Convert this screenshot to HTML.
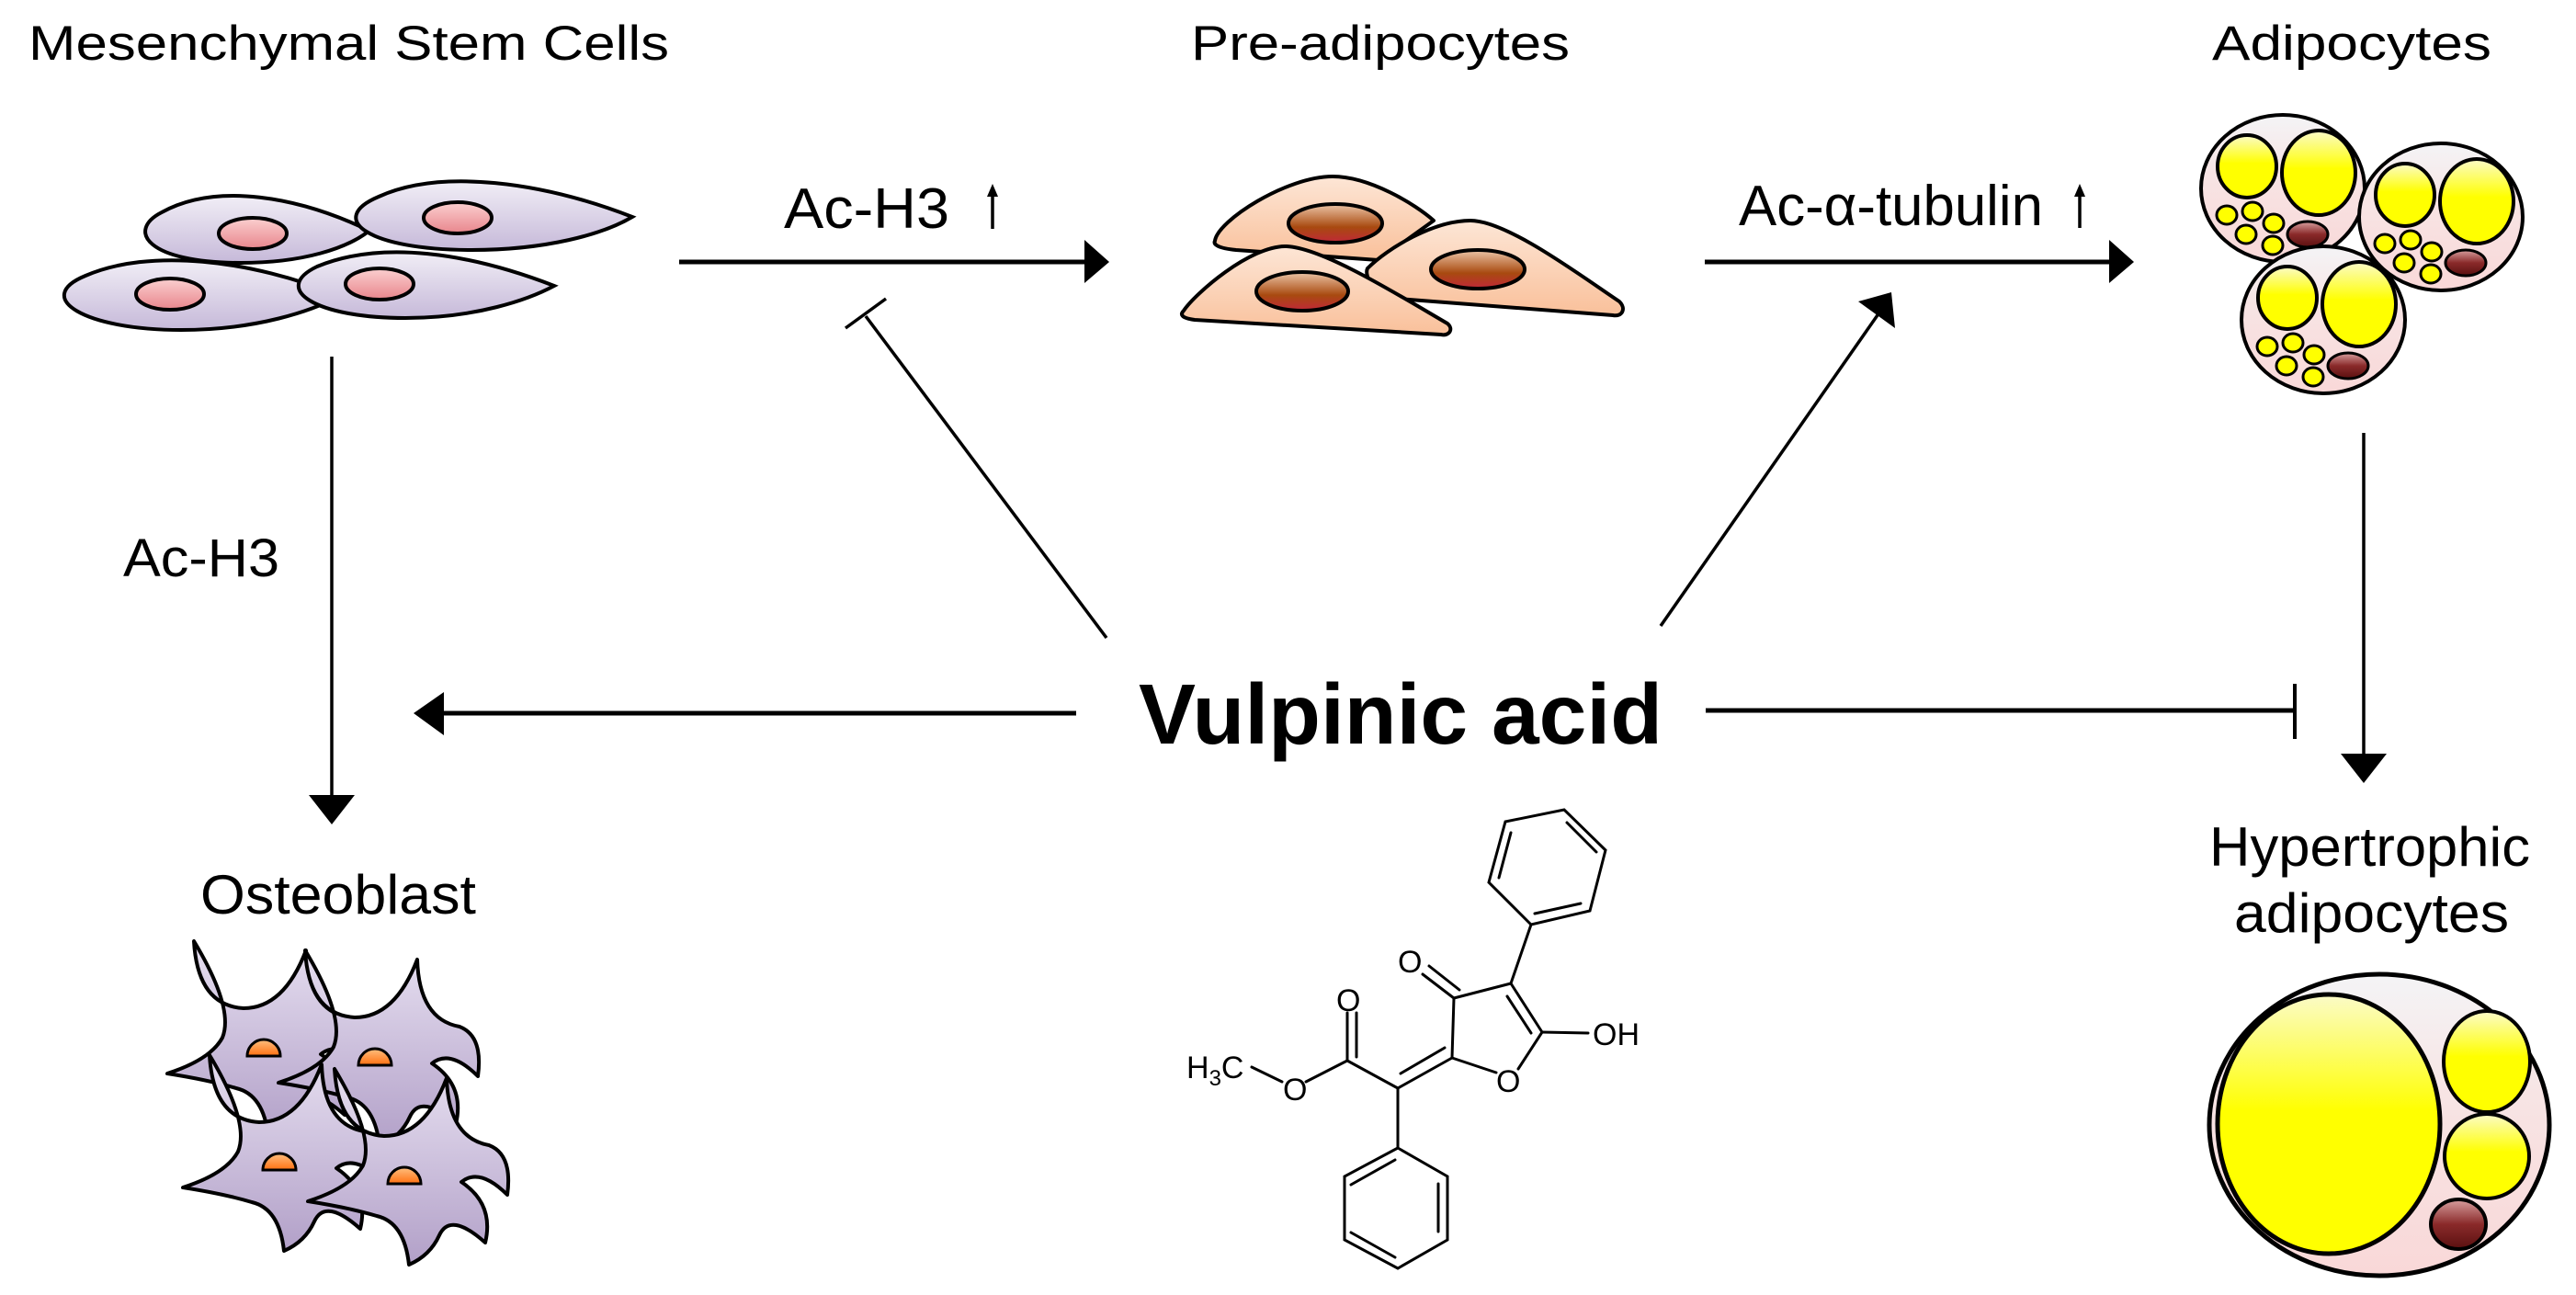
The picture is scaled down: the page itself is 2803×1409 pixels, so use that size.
<!DOCTYPE html>
<html><head><meta charset="utf-8"><style>
html,body{margin:0;padding:0;background:#fff;}
svg{display:block;}
text{font-family:"Liberation Sans",sans-serif;fill:#000;}
</style></head><body>
<svg width="2803" height="1409" viewBox="0 0 2803 1409" xmlns="http://www.w3.org/2000/svg">
<defs>
<linearGradient id="lav" x1="0" y1="0" x2="0" y2="1"><stop offset="0" stop-color="#f1eef6"/><stop offset="1" stop-color="#c6b9d9"/></linearGradient>
<linearGradient id="pinkn" x1="0" y1="0" x2="0" y2="1"><stop offset="0" stop-color="#fbd0d0"/><stop offset="1" stop-color="#e8858c"/></linearGradient>
<linearGradient id="peach" x1="0" y1="0" x2="0" y2="1"><stop offset="0" stop-color="#fde6d6"/><stop offset="1" stop-color="#f9c09a"/></linearGradient>
<linearGradient id="brn" x1="0" y1="0" x2="0" y2="1"><stop offset="0" stop-color="#ecc6a8"/><stop offset="0.6" stop-color="#a84a10"/><stop offset="1" stop-color="#c02838"/></linearGradient>
<linearGradient id="yel" x1="0" y1="0" x2="0" y2="1"><stop offset="0" stop-color="#fbfbc8"/><stop offset="0.45" stop-color="#ffff00"/><stop offset="1" stop-color="#ffff00"/></linearGradient>
<linearGradient id="cellp" x1="0" y1="0" x2="0" y2="1"><stop offset="0" stop-color="#f4f4f6"/><stop offset="0.4" stop-color="#f7e4e4"/><stop offset="1" stop-color="#f9d8d8"/></linearGradient>
<linearGradient id="dbrn" x1="0" y1="0" x2="0" y2="1"><stop offset="0" stop-color="#d8a0a0"/><stop offset="0.5" stop-color="#8a2a2a"/><stop offset="1" stop-color="#5a1010"/></linearGradient>
<linearGradient id="org" x1="0" y1="0" x2="0" y2="1"><stop offset="0" stop-color="#ffc080"/><stop offset="1" stop-color="#ff7010"/></linearGradient>
<linearGradient id="ost" x1="0" y1="0" x2="0" y2="1"><stop offset="0" stop-color="#e6dff0"/><stop offset="1" stop-color="#b2a0c8"/></linearGradient>
<g id="adip">
  <ellipse cx="0" cy="0" rx="89" ry="80" fill="url(#cellp)" stroke="#000" stroke-width="4"/>
  <ellipse cx="-39" cy="-24" rx="32" ry="34" fill="url(#yel)" stroke="#000" stroke-width="4"/>
  <ellipse cx="39" cy="-17" rx="40" ry="46" fill="url(#yel)" stroke="#000" stroke-width="4"/>
  <ellipse cx="-61" cy="29" rx="11" ry="10" fill="#ffff00" stroke="#000" stroke-width="3"/>
  <ellipse cx="-33" cy="25" rx="11" ry="10" fill="#ffff00" stroke="#000" stroke-width="3"/>
  <ellipse cx="-10" cy="38" rx="11" ry="10" fill="#ffff00" stroke="#000" stroke-width="3"/>
  <ellipse cx="-40" cy="50" rx="11" ry="10" fill="#ffff00" stroke="#000" stroke-width="3"/>
  <ellipse cx="-11" cy="62" rx="11" ry="10" fill="#ffff00" stroke="#000" stroke-width="3"/>
  <ellipse cx="27" cy="50" rx="22" ry="14" fill="url(#dbrn)" stroke="#000" stroke-width="3"/>
</g>
<g id="ostc">
  <path d="M -76,-115 Q -72,-45 -22,-42 Q 22,-42 46,-105 Q 48,-40 92,-32 Q 118,-22 112,22 Q 82,-8 62,8 Q 98,32 88,74 Q 50,40 38,66 Q 28,88 5,98 Q 0,52 -30,45 Q -60,36 -105,29 Q -58,14 -45,-10 Q -32,-42 -76,-115 Z" fill="url(#ost)" stroke="#000" stroke-width="4" stroke-linejoin="round"/>
  <path d="M -18,10 A 18,18 0 0 1 18,10 Z" fill="url(#org)" stroke="#000" stroke-width="3"/>
</g>
</defs>

<!-- Titles -->
<text x="31" y="65" font-size="53" textLength="697" lengthAdjust="spacingAndGlyphs">Mesenchymal Stem Cells</text>
<text x="1296" y="65" font-size="53" textLength="412" lengthAdjust="spacingAndGlyphs">Pre-adipocytes</text>
<text x="2407" y="65" font-size="53" textLength="304" lengthAdjust="spacingAndGlyphs">Adipocytes</text>

<!-- MSC cells -->
<g fill="url(#lav)" stroke="#000" stroke-width="4">
  <path d="M 402,251 C 325,214 236,198 176,231 C 137,251 160,286 262,286 C 330,286 378,270 402,251 Z"/>
  <path d="M 688,236 C 590,198 480,183 412,214 C 355,238 400,272 513,272 C 594,272 656,255 688,236 Z"/>
  <path d="M 370,322 C 272,282 162,270 93,300 C 35,324 92,359 197,359 C 280,359 340,338 370,322 Z"/>
  <path d="M 603,311 C 510,275 415,261 345,290 C 295,314 342,346 441,346 C 518,346 575,326 603,311 Z"/>
</g>
<g fill="url(#pinkn)" stroke="#000" stroke-width="4">
  <ellipse cx="275" cy="254" rx="37" ry="17"/>
  <ellipse cx="498" cy="237" rx="37" ry="17"/>
  <ellipse cx="185" cy="320" rx="37" ry="17"/>
  <ellipse cx="413" cy="309" rx="37" ry="17"/>
</g>

<!-- Pre-adipocytes -->
<g fill="url(#peach)" stroke="#000" stroke-width="4" stroke-linejoin="round">
  <path d="M1322,262 C1325,240 1400,192 1450,192 C1490,192 1540,222 1560,240 L1500,283 L1345,272 C1325,270 1320,266 1322,262Z"/>
  <path d="M1488,292 C1510,270 1560,240 1600,240 C1640,240 1720,300 1762,328 C1770,336 1765,345 1755,343 L1520,325 C1495,322 1484,300 1488,292Z"/>
  <path d="M1288,338 C1300,320 1360,267 1400,268 C1440,270 1520,320 1575,352 C1582,358 1577,366 1568,364 L1300,348 C1285,346 1284,342 1288,338Z"/>
</g>
<g fill="url(#brn)" stroke="#000" stroke-width="4">
  <ellipse cx="1453" cy="243" rx="51" ry="21"/>
  <ellipse cx="1608" cy="293" rx="51" ry="21"/>
  <ellipse cx="1417" cy="317" rx="50" ry="21"/>
</g>

<!-- Adipocytes -->
<use href="#adip" transform="translate(2484,205)"/>
<use href="#adip" transform="translate(2656,236)"/>
<use href="#adip" transform="translate(2528,348)"/>

<!-- Arrows top -->
<g stroke="#000" fill="none">
  <line x1="739" y1="285" x2="1182" y2="285" stroke-width="5"/>
  <line x1="1855" y1="285" x2="2297" y2="285" stroke-width="5"/>
</g>
<polygon points="1180,261 1207,285 1180,308" fill="#000"/>
<polygon points="2295,261 2322,285 2295,308" fill="#000"/>

<text x="853" y="248" font-size="62" textLength="180" lengthAdjust="spacingAndGlyphs">Ac-H3</text>
<line x1="1080" y1="249" x2="1080" y2="210" stroke="#000" stroke-width="3.5"/>
<polygon points="1074,214 1080,200 1086,214" fill="#000"/>
<text x="1892" y="245" font-size="62" textLength="331" lengthAdjust="spacingAndGlyphs">Ac-α-tubulin</text>
<line x1="2263" y1="248" x2="2263" y2="210" stroke="#000" stroke-width="3.5"/>
<polygon points="2257,214 2263,200 2269,214" fill="#000"/>

<!-- inhibition line to left -->
<line x1="1204" y1="694" x2="942" y2="344" stroke="#000" stroke-width="3.5"/>
<line x1="920" y1="357" x2="964" y2="325" stroke="#000" stroke-width="3.5"/>
<!-- arrow to right up -->
<line x1="1807" y1="681" x2="2045" y2="340" stroke="#000" stroke-width="3.5"/>
<polygon points="2058,318 2022,328 2062,357" fill="#000"/>

<!-- left vertical -->
<line x1="361" y1="388" x2="361" y2="870" stroke="#000" stroke-width="3.5"/>
<polygon points="336,865 386,865 361,897" fill="#000"/>
<text x="134" y="627" font-size="58" textLength="170" lengthAdjust="spacingAndGlyphs">Ac-H3</text>

<!-- right vertical -->
<line x1="2572" y1="471" x2="2572" y2="825" stroke="#000" stroke-width="3.5"/>
<polygon points="2547,820 2597,820 2572,852" fill="#000"/>

<!-- Vulpinic acid -->
<text x="1239" y="809" font-size="93" font-weight="bold" textLength="570" lengthAdjust="spacingAndGlyphs">Vulpinic acid</text>
<line x1="1171" y1="776" x2="478" y2="776" stroke="#000" stroke-width="5"/>
<polygon points="450,776 483,753 483,800" fill="#000"/>
<line x1="1856" y1="773" x2="2497" y2="773" stroke="#000" stroke-width="5"/>
<line x1="2497" y1="744" x2="2497" y2="804" stroke="#000" stroke-width="4"/>

<!-- Osteoblast -->
<text x="218" y="994" font-size="60" textLength="300" lengthAdjust="spacingAndGlyphs">Osteoblast</text>
<use href="#ostc" transform="translate(287,1139)"/>
<use href="#ostc" transform="translate(408,1149)"/>
<use href="#ostc" transform="translate(304,1263)"/>
<use href="#ostc" transform="translate(440,1278)"/>

<!-- Hypertrophic -->
<text x="2404" y="942" font-size="60" textLength="349" lengthAdjust="spacingAndGlyphs">Hypertrophic</text>
<text x="2431" y="1014" font-size="60" textLength="299" lengthAdjust="spacingAndGlyphs">adipocytes</text>
<ellipse cx="2589" cy="1224" rx="185" ry="164" fill="url(#cellp)" stroke="#000" stroke-width="5"/>
<ellipse cx="2534" cy="1223" rx="121" ry="141" fill="url(#yel)" stroke="#000" stroke-width="5"/>
<ellipse cx="2706" cy="1155" rx="47" ry="55" fill="url(#yel)" stroke="#000" stroke-width="4"/>
<ellipse cx="2706" cy="1258" rx="46" ry="46" fill="url(#yel)" stroke="#000" stroke-width="4"/>
<ellipse cx="2675" cy="1332" rx="30" ry="27" fill="url(#dbrn)" stroke="#000" stroke-width="4"/>

<!-- Chemical structure -->
<g stroke="#000" stroke-width="3" fill="none" stroke-linecap="round">
  <polygon points="1638,894 1702,881 1747,925 1730,991 1666,1006 1620,960"/>
  <line x1="1644" y1="906" x2="1631" y2="955"/>
  <line x1="1705" y1="895" x2="1737" y2="927"/>
  <line x1="1720" y1="983" x2="1670" y2="994"/>
  <line x1="1666" y1="1006" x2="1644" y2="1070"/>
  <line x1="1644" y1="1070" x2="1582" y2="1086"/>
  <line x1="1644" y1="1070" x2="1678" y2="1123"/>
  <line x1="1640" y1="1084" x2="1666" y2="1124"/>
  <line x1="1678" y1="1123" x2="1728" y2="1124"/>
  <line x1="1678" y1="1123" x2="1652" y2="1163"/>
  <line x1="1628" y1="1167" x2="1580" y2="1151"/>
  <line x1="1582" y1="1086" x2="1580" y2="1151"/>
  <line x1="1582" y1="1086" x2="1548" y2="1060"/>
  <line x1="1588" y1="1077" x2="1555" y2="1051"/>
  <line x1="1580" y1="1151" x2="1521" y2="1184"/>
  <line x1="1572" y1="1140" x2="1524" y2="1168"/>
  <line x1="1521" y1="1184" x2="1466" y2="1154"/>
  <line x1="1466" y1="1154" x2="1466" y2="1102"/>
  <line x1="1476" y1="1150" x2="1476" y2="1102"/>
  <line x1="1466" y1="1154" x2="1421" y2="1177"/>
  <line x1="1395" y1="1177" x2="1362" y2="1161"/>
  <line x1="1521" y1="1184" x2="1521" y2="1249"/>
  <polygon points="1521,1249 1575,1280 1575,1349 1521,1380 1463,1349 1463,1280"/>
  <line x1="1565" y1="1288" x2="1565" y2="1340"/>
  <line x1="1470" y1="1289" x2="1518" y2="1262"/>
  <line x1="1470" y1="1341" x2="1518" y2="1368"/>
</g>
<g font-size="34">
  <text x="1521" y="1058">O</text>
  <text x="1454" y="1100">O</text>
  <text x="1396" y="1197">O</text>
  <text x="1628" y="1188">O</text>
  <text x="1733" y="1137">OH</text>
  <text x="1291" y="1173">H<tspan font-size="24" dy="8">3</tspan><tspan dy="-8">C</tspan></text>
</g>
</svg>
</body></html>
